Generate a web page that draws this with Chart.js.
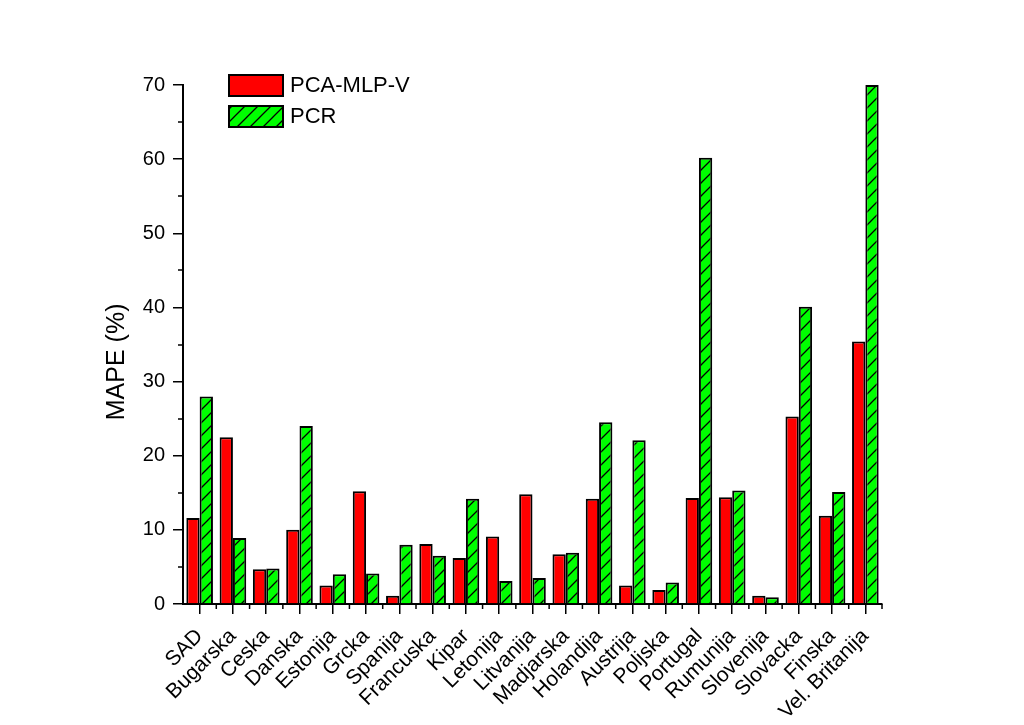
<!DOCTYPE html>
<html>
<head>
<meta charset="utf-8">
<script src="https://cdn.jsdelivr.net/npm/chart.js@4.4.0/dist/chart.umd.min.js"></script>
<style>
  html, body { margin: 0; padding: 0; background: #fff; }
  #wrap { width: 1024px; height: 725px; }
</style>
</head>
<body>
<div id="wrap"><canvas id="mapeChart" width="1024" height="725"></canvas></div>
<script>
const countries = ["SAD", "Bugarska", "Ceska", "Danska", "Estonija", "Grcka", "Spanija", "Francuska", "Kipar", "Letonija",
  "Litvanija", "Madjarska", "Holandija", "Austrija", "Poljska", "Portugal", "Rumunija", "Slovenija", "Slovacka", "Finska", "Vel. Britanija"];
const pcaMlpV = [11.6, 22.5, 4.7, 10.0, 2.5, 15.2, 1.1, 8.1, 6.2, 9.1, 14.8, 6.7, 14.2, 2.5, 1.9, 14.3, 14.4, 1.1, 25.3, 11.9, 35.4];
const pcr = [28.0, 8.9, 4.8, 24.0, 4.0, 4.1, 8.0, 6.5, 14.2, 3.1, 3.5, 6.9, 24.5, 22.1, 2.9, 60.2, 15.3, 0.9, 40.1, 15.1, 70.0];
const yTicks = [0, 10, 20, 30, 40, 50, 60, 70];

// green with diagonal hatch
function hatch() {
  const c = document.createElement("canvas");
  c.width = 13; c.height = 13;
  const g = c.getContext("2d");
  g.fillStyle = "#00ff00";
  g.fillRect(0, 0, 13, 13);
  g.strokeStyle = "#000";
  g.lineWidth = 1.3;
  g.beginPath();
  g.moveTo(0, 13); g.lineTo(13, 0);
  g.moveTo(-6.5, 6.5); g.lineTo(6.5, -6.5);
  g.moveTo(6.5, 19.5); g.lineTo(19.5, 6.5);
  g.stroke();
  return g.createPattern(c, "repeat");
}
const hatchFill = hatch();
const font = "'Liberation Sans', Arial, sans-serif";

// minor ticks + legend
const extras = {
  id: "extras",
  afterDraw(chart) {
    const ctx = chart.ctx;
    const x = chart.scales.x, y = chart.scales.y;
    const area = chart.chartArea;
    ctx.save();
    ctx.strokeStyle = "#000";
    ctx.lineWidth = 1.5;
    ctx.beginPath();
    for (let v = 5; v < 70; v += 10) {
      const py = Math.round(y.getPixelForValue(v));
      ctx.moveTo(area.left, py); ctx.lineTo(area.left - 5, py);
    }
    for (let i = 0; i < countries.length; i++) {
      const px = (x.getPixelForValue(i) + x.getPixelForValue(i + 1)) / 2;
      ctx.moveTo(px, area.bottom); ctx.lineTo(px, area.bottom + 5);
    }
    ctx.stroke();

    // legend
    chart.data.datasets.forEach((ds, k) => {
      const top = 75 + k * 31;
      ctx.fillStyle = ds.backgroundColor;
      ctx.fillRect(229, top, 54, 21);
      ctx.lineWidth = 2;
      ctx.strokeRect(229, top, 54, 21);
      ctx.fillStyle = "#000";
      ctx.font = "22px " + font;
      ctx.textBaseline = "middle";
      ctx.fillText(ds.label, 290, top + 11);
    });
    ctx.restore();
  }
};

new Chart(document.getElementById("mapeChart"), {
  type: "bar",
  data: {
    labels: countries,
    datasets: [
      { label: "PCA-MLP-V", data: pcaMlpV, backgroundColor: "#ff0000", borderColor: "#000", borderWidth: 2 },
      { label: "PCR", data: pcr, backgroundColor: hatchFill, borderColor: "#000", borderWidth: 2 }
    ]
  },
  options: {
    responsive: false,
    animation: false,
    layout: { padding: { top: 85, right: 142, left: 0, bottom: 0 } },
    plugins: { legend: { display: false }, tooltip: { enabled: false } },
    datasets: { bar: { categoryPercentage: 0.8, barPercentage: 1.0 } },
    scales: {
      x: {
        offset: true,
        grid: { display: true, drawOnChartArea: false, offset: false, tickLength: 10, color: "#000", lineWidth: 1.5 },
        border: { color: "#000", width: 2 },
        ticks: { color: "#000", maxRotation: 45, minRotation: 45, autoSkip: false, padding: 10,
          font: { family: font, size: 21 } },
        afterFit(s) { s.height = 121; }
      },
      y: {
        min: 0, max: 70,
        afterBuildTicks(s) { s.ticks = yTicks.map(v => ({ value: v })); },
        grid: { display: true, drawOnChartArea: false, tickLength: 10, color: "#000", lineWidth: 1.5 },
        border: { color: "#000", width: 2 },
        ticks: { color: "#000", padding: 8, font: { family: font, size: 20 } },
        title: { display: true, text: "MAPE (%)" + " ".repeat(5), color: "#000", padding: { top: 102, bottom: 0 },
          font: { family: font, size: 25 } },
        afterFit(s) { s.width = 183; }
      }
    }
  },
  plugins: [extras]
});
</script>
</body>
</html>
